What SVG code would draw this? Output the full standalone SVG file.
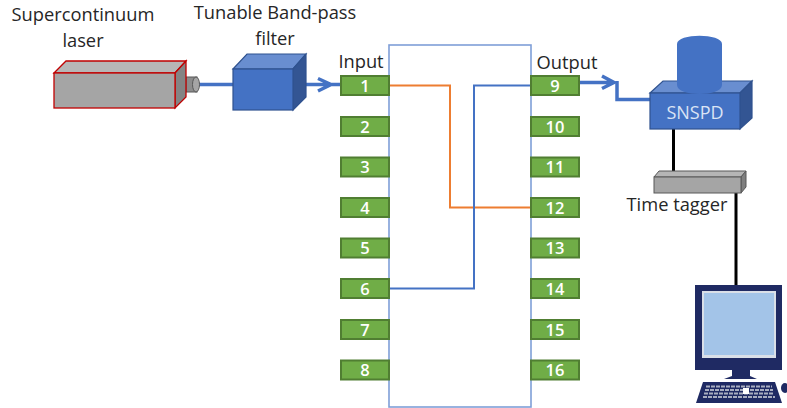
<svg xmlns="http://www.w3.org/2000/svg" width="787" height="408" viewBox="0 0 787 408">
<style>
text{font-family:"Open Sans","Noto Sans","Liberation Sans",sans-serif}
.lbl{font-size:18.300px;fill:#262626;text-anchor:middle}
.pin rect{fill:#70ad47;stroke:#507e32;stroke-width:2}
.pin text{font-size:16.500px;font-weight:600;fill:#fff;text-anchor:middle}
.fiber{fill:none;stroke:#4472c4;stroke-width:3.5}
.thin{fill:none;stroke-width:2}
.blk{stroke:#000;stroke-width:3;fill:none}
.bf{fill:#4472c4;stroke:#2f528f;stroke-width:1.2}
.bt{fill:#698ed0;stroke:#2f528f;stroke-width:1.2}
.br{fill:#335593;stroke:#2f528f;stroke-width:1.2}
.key{fill:none;stroke:#a9aec0;stroke-width:2.200;stroke-dasharray:4 1}
</style>
<rect width="787" height="408" fill="#fff"/>
<g id="chip"><rect x="389" y="45" width="142" height="362" fill="#fff" stroke="#7f9fd8" stroke-width="1.6"/></g>
<g id="connectors">
<path class="fiber" d="M199 84.500H233"/>
<path class="fiber" d="M306 84.500H340M318 78.500L331 84.500L318 91"/>
<path class="fiber" d="M579 82.500H612M602 76L614 82.500L602 88.500"/>
<path class="fiber" d="M617 81V99.500H651"/>
<path class="thin" stroke="#ed7d31" d="M389 85.500H450V207.500H531"/>
<path class="thin" stroke="#4472c4" d="M389 288.500H474V85.500H531"/>
<path class="blk" d="M673.500 129V171"/>
<path class="blk" d="M736 190V285"/>
</g>
<g id="laser">
<rect x="186" y="77" width="11" height="15" fill="#8c8c8c" stroke="#595959"/>
<ellipse cx="196" cy="84.500" rx="3.500" ry="7.500" fill="#a5a5a5" stroke="#595959"/>
<path d="M54 73L66 61H186L175 73Z" fill="#b7b7b7" stroke="#c00000" stroke-width="1.300"/>
<path d="M175 73L186 61V97L175 108Z" fill="#848484" stroke="#c00000" stroke-width="1.300"/>
<rect x="54" y="73" width="121" height="35" fill="#a5a5a5" stroke="#c00000" stroke-width="1.300"/>
<text class="lbl" x="83" y="21">Supercontinuum</text>
<text class="lbl" x="83" y="47">laser</text>
</g>
<g id="filter">
<path class="bt" d="M233 69L247 54H306L293 69Z"/>
<path class="br" d="M293 69L306 54V97L293 110Z"/>
<rect class="bf" x="233" y="69" width="60" height="41"/>
<text class="lbl" x="275" y="19">Tunable Band-pass</text>
<text class="lbl" x="275" y="45">filter</text>
</g>
<text class="lbl" x="361" y="68">Input</text>
<text class="lbl" x="567" y="69">Output</text>
<g id="pin1" class="pin"><rect x="341" y="76" width="48" height="19"/><text x="365" y="91.500">1</text></g>
<g id="pin2" class="pin"><rect x="341" y="117" width="48" height="19"/><text x="365" y="132.500">2</text></g>
<g id="pin3" class="pin"><rect x="341" y="157.500" width="48" height="19"/><text x="365" y="173">3</text></g>
<g id="pin4" class="pin"><rect x="341" y="198" width="48" height="19"/><text x="365" y="213.500">4</text></g>
<g id="pin5" class="pin"><rect x="341" y="238.500" width="48" height="19"/><text x="365" y="254">5</text></g>
<g id="pin6" class="pin"><rect x="341" y="279" width="48" height="19"/><text x="365" y="294.500">6</text></g>
<g id="pin7" class="pin"><rect x="341" y="320" width="48" height="19"/><text x="365" y="335.500">7</text></g>
<g id="pin8" class="pin"><rect x="341" y="360.500" width="48" height="19"/><text x="365" y="376">8</text></g>
<g id="pin9" class="pin"><rect x="531" y="76" width="48" height="19"/><text x="555" y="91.500">9</text></g>
<g id="pin10" class="pin"><rect x="531" y="117" width="48" height="19"/><text x="555" y="132.500">10</text></g>
<g id="pin11" class="pin"><rect x="531" y="157.500" width="48" height="19"/><text x="555" y="173">11</text></g>
<g id="pin12" class="pin"><rect x="531" y="198" width="48" height="19"/><text x="555" y="213.500">12</text></g>
<g id="pin13" class="pin"><rect x="531" y="238.500" width="48" height="19"/><text x="555" y="254">13</text></g>
<g id="pin14" class="pin"><rect x="531" y="279" width="48" height="19"/><text x="555" y="294.500">14</text></g>
<g id="pin15" class="pin"><rect x="531" y="320" width="48" height="19"/><text x="555" y="335.500">15</text></g>
<g id="pin16" class="pin"><rect x="531" y="360.500" width="48" height="19"/><text x="555" y="376">16</text></g>
<g id="snspd">
<path class="bt" d="M650 93L663 81H752L740 93Z"/>
<path class="br" d="M740 93L752 81V118L740 129Z"/>
<rect class="bf" x="650" y="93" width="90" height="36"/>
<path d="M677 44C677 33 722 33 722 44V85C722 97 677 97 677 85Z" fill="#4472c4"/>
<text x="695" y="119" font-size="18" fill="#dbe4f5" text-anchor="middle">SNSPD</text>
</g>
<g id="tagger">
<path d="M654 177L659 171H746L741 177Z" fill="#b5b5b5" stroke="#595959"/>
<path d="M741 177L746 171V187L741 193Z" fill="#7f7f7f" stroke="#595959"/>
<rect x="654" y="177" width="87" height="16" fill="#a5a5a5" stroke="#595959"/>
<text class="lbl" x="677" y="211">Time tagger</text>
</g>
<g id="computer">
<rect x="695" y="285" width="87" height="85" fill="#1f2a63"/>
<rect x="702" y="291" width="74" height="67" fill="#d9dfe8"/>
<rect x="704" y="293" width="70" height="62" fill="#a3c4e8"/>
<path d="M732 370H750V376L757 379H724L732 376Z" fill="#1f2a63"/>
<path d="M703 382H775L782 403H696Z" fill="#1f2a63"/>
<path class="key" d="M706 386.500H772M705 390H773M704 393.500H774M703 397H775"/>
<rect x="743" y="388" width="6" height="6" fill="#fff"/>
<ellipse cx="785" cy="388" rx="4" ry="5" fill="#1f2a63"/>
</g>
</svg>
